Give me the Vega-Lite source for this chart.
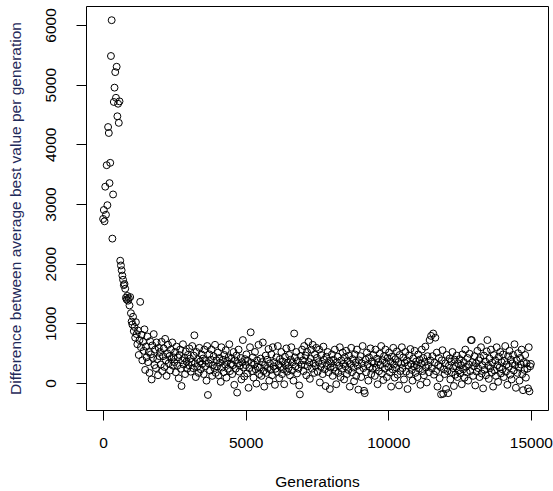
{
"$schema": "https://vega.github.io/schema/vega-lite/v6.json",
"width": 462, "height": 404,
"autosize": {"type": "none"},
"padding": {"left": 86, "top": 6, "right": 5, "bottom": 81},
"background": "white",
"config": {"view": {"stroke": "black", "strokeWidth": 1}, "font": "Liberation Sans"},
"data": {"values": [
{"g":0,"v":2750},{"g":25,"v":2900},{"g":50,"v":2710},{"g":75,"v":3290},{"g":100,"v":2820},{"g":125,"v":3650},{"g":150,"v":2980},{"g":175,"v":4290},{"g":200,"v":4190},{"g":225,"v":3350},{"g":250,"v":3690},{"g":275,"v":5480},{"g":300,"v":6080},{"g":325,"v":2420},{"g":350,"v":3160},{"g":375,"v":4710},{"g":400,"v":4950},{"g":425,"v":5210},{"g":450,"v":4780},{"g":475,"v":5300},
{"g":500,"v":4470},{"g":525,"v":4680},{"g":550,"v":4360},{"g":575,"v":4720},{"g":600,"v":2050},{"g":625,"v":1970},{"g":650,"v":1890},{"g":675,"v":1800},{"g":700,"v":1730},{"g":725,"v":1640},{"g":750,"v":1660},{"g":775,"v":1580},{"g":800,"v":1430},{"g":825,"v":1400},{"g":850,"v":1460},{"g":875,"v":1380},{"g":900,"v":1420},{"g":925,"v":1300},{"g":950,"v":1440},{"g":975,"v":1170},
{"g":1000,"v":1030},{"g":1025,"v":980},{"g":1050,"v":1110},{"g":1075,"v":870},{"g":1100,"v":940},{"g":1125,"v":760},{"g":1150,"v":1020},{"g":1175,"v":820},{"g":1200,"v":650},{"g":1225,"v":880},{"g":1250,"v":470},{"g":1275,"v":720},{"g":1300,"v":1360},{"g":1325,"v":600},{"g":1350,"v":810},{"g":1375,"v":380},{"g":1400,"v":690},{"g":1425,"v":540},{"g":1450,"v":900},{"g":1475,"v":220},
{"g":1500,"v":610},{"g":1525,"v":430},{"g":1550,"v":780},{"g":1575,"v":350},{"g":1600,"v":520},{"g":1625,"v":170},{"g":1650,"v":700},{"g":1675,"v":480},{"g":1700,"v":60},{"g":1725,"v":630},{"g":1750,"v":420},{"g":1775,"v":820},{"g":1800,"v":300},{"g":1825,"v":560},{"g":1850,"v":250},{"g":1875,"v":680},{"g":1900,"v":400},{"g":1925,"v":130},{"g":1950,"v":590},{"g":1975,"v":450},
{"g":2000,"v":520},{"g":2025,"v":310},{"g":2050,"v":690},{"g":2075,"v":200},{"g":2100,"v":450},{"g":2125,"v":580},{"g":2150,"v":270},{"g":2175,"v":740},{"g":2200,"v":380},{"g":2225,"v":120},{"g":2250,"v":500},{"g":2275,"v":640},{"g":2300,"v":330},{"g":2325,"v":450},{"g":2350,"v":210},{"g":2375,"v":560},{"g":2400,"v":400},{"g":2425,"v":680},{"g":2450,"v":290},{"g":2475,"v":430},
{"g":2500,"v":350},{"g":2525,"v":520},{"g":2550,"v":180},{"g":2575,"v":610},{"g":2600,"v":290},{"g":2625,"v":430},{"g":2650,"v":80},{"g":2675,"v":470},{"g":2700,"v":560},{"g":2725,"v":240},{"g":2750,"v":-50},{"g":2775,"v":380},{"g":2800,"v":650},{"g":2825,"v":310},{"g":2850,"v":420},{"g":2875,"v":150},{"g":2900,"v":530},{"g":2925,"v":360},{"g":2950,"v":240},{"g":2975,"v":470},
{"g":3000,"v":300},{"g":3025,"v":580},{"g":3050,"v":410},{"g":3075,"v":190},{"g":3100,"v":350},{"g":3125,"v":620},{"g":3150,"v":250},{"g":3175,"v":460},{"g":3200,"v":800},{"g":3225,"v":330},{"g":3250,"v":100},{"g":3275,"v":520},{"g":3300,"v":270},{"g":3325,"v":400},{"g":3350,"v":170},{"g":3375,"v":590},{"g":3400,"v":360},{"g":3425,"v":230},{"g":3450,"v":480},{"g":3475,"v":320},
{"g":3500,"v":410},{"g":3525,"v":150},{"g":3550,"v":560},{"g":3575,"v":280},{"g":3600,"v":370},{"g":3625,"v":40},{"g":3650,"v":620},{"g":3675,"v":-200},{"g":3700,"v":330},{"g":3725,"v":480},{"g":3750,"v":210},{"g":3775,"v":390},{"g":3800,"v":560},{"g":3825,"v":120},{"g":3850,"v":300},{"g":3875,"v":450},{"g":3900,"v":250},{"g":3925,"v":640},{"g":3950,"v":170},{"g":3975,"v":380},
{"g":4000,"v":280},{"g":4025,"v":510},{"g":4050,"v":130},{"g":4075,"v":420},{"g":4100,"v":340},{"g":4125,"v":20},{"g":4150,"v":600},{"g":4175,"v":260},{"g":4200,"v":390},{"g":4225,"v":180},{"g":4250,"v":470},{"g":4275,"v":310},{"g":4300,"v":550},{"g":4325,"v":90},{"g":4350,"v":370},{"g":4375,"v":240},{"g":4400,"v":430},{"g":4425,"v":650},{"g":4450,"v":200},{"g":4475,"v":320},
{"g":4500,"v":410},{"g":4525,"v":150},{"g":4550,"v":300},{"g":4575,"v":520},{"g":4600,"v":-30},{"g":4625,"v":380},{"g":4650,"v":240},{"g":4675,"v":460},{"g":4700,"v":-160},{"g":4725,"v":330},{"g":4750,"v":560},{"g":4775,"v":190},{"g":4800,"v":290},{"g":4825,"v":420},{"g":4850,"v":60},{"g":4875,"v":350},{"g":4900,"v":720},{"g":4925,"v":260},{"g":4950,"v":110},{"g":4975,"v":400},
{"g":5000,"v":300},{"g":5025,"v":480},{"g":5050,"v":160},{"g":5075,"v":370},{"g":5100,"v":-80},{"g":5125,"v":250},{"g":5150,"v":600},{"g":5175,"v":850},{"g":5200,"v":340},{"g":5225,"v":200},{"g":5250,"v":430},{"g":5275,"v":90},{"g":5300,"v":310},{"g":5325,"v":520},{"g":5350,"v":230},{"g":5375,"v":-10},{"g":5400,"v":380},{"g":5425,"v":270},{"g":5450,"v":640},{"g":5475,"v":150},
{"g":5500,"v":260},{"g":5525,"v":410},{"g":5550,"v":120},{"g":5575,"v":350},{"g":5600,"v":680},{"g":5625,"v":200},{"g":5650,"v":-60},{"g":5675,"v":300},{"g":5700,"v":460},{"g":5725,"v":170},{"g":5750,"v":390},{"g":5775,"v":250},{"g":5800,"v":570},{"g":5825,"v":40},{"g":5850,"v":330},{"g":5875,"v":220},{"g":5900,"v":480},{"g":5925,"v":130},{"g":5950,"v":600},{"g":5975,"v":280},
{"g":6000,"v":350},{"g":6025,"v":-30},{"g":6050,"v":240},{"g":6075,"v":430},{"g":6100,"v":190},{"g":6125,"v":620},{"g":6150,"v":310},{"g":6175,"v":80},{"g":6200,"v":400},{"g":6225,"v":270},{"g":6250,"v":520},{"g":6275,"v":150},{"g":6300,"v":360},{"g":6325,"v":230},{"g":6350,"v":-20},{"g":6375,"v":440},{"g":6400,"v":300},{"g":6425,"v":580},{"g":6450,"v":190},{"g":6475,"v":340},
{"g":6500,"v":250},{"g":6525,"v":470},{"g":6550,"v":130},{"g":6575,"v":390},{"g":6600,"v":600},{"g":6625,"v":210},{"g":6650,"v":350},{"g":6675,"v":40},{"g":6700,"v":830},{"g":6725,"v":430},{"g":6750,"v":280},{"g":6775,"v":520},{"g":6800,"v":160},{"g":6825,"v":370},{"g":6850,"v":240},{"g":6875,"v":-40},{"g":6900,"v":-190},{"g":6925,"v":450},{"g":6950,"v":310},{"g":6975,"v":560},
{"g":7000,"v":380},{"g":7025,"v":200},{"g":7050,"v":620},{"g":7075,"v":300},{"g":7100,"v":460},{"g":7125,"v":130},{"g":7150,"v":520},{"g":7175,"v":280},{"g":7200,"v":690},{"g":7225,"v":350},{"g":7250,"v":70},{"g":7275,"v":410},{"g":7300,"v":560},{"g":7325,"v":240},{"g":7350,"v":640},{"g":7375,"v":330},{"g":7400,"v":170},{"g":7425,"v":480},{"g":7450,"v":290},{"g":7475,"v":590},
{"g":7500,"v":420},{"g":7525,"v":190},{"g":7550,"v":350},{"g":7575,"v":560},{"g":7600,"v":10},{"g":7625,"v":270},{"g":7650,"v":470},{"g":7675,"v":320},{"g":7700,"v":150},{"g":7725,"v":610},{"g":7750,"v":390},{"g":7775,"v":230},{"g":7800,"v":-50},{"g":7825,"v":440},{"g":7850,"v":300},{"g":7875,"v":520},{"g":7900,"v":180},{"g":7925,"v":370},{"g":7950,"v":-100},{"g":7975,"v":260},
{"g":8000,"v":330},{"g":8025,"v":480},{"g":8050,"v":120},{"g":8075,"v":390},{"g":8100,"v":260},{"g":8125,"v":560},{"g":8150,"v":200},{"g":8175,"v":-20},{"g":8200,"v":350},{"g":8225,"v":440},{"g":8250,"v":170},{"g":8275,"v":290},{"g":8300,"v":600},{"g":8325,"v":100},{"g":8350,"v":380},{"g":8375,"v":240},{"g":8400,"v":510},{"g":8425,"v":320},{"g":8450,"v":60},{"g":8475,"v":430},
{"g":8500,"v":280},{"g":8525,"v":540},{"g":8550,"v":150},{"g":8575,"v":370},{"g":8600,"v":220},{"g":8625,"v":460},{"g":8650,"v":-60},{"g":8675,"v":320},{"g":8700,"v":590},{"g":8725,"v":180},{"g":8750,"v":400},{"g":8775,"v":260},{"g":8800,"v":30},{"g":8825,"v":480},{"g":8850,"v":340},{"g":8875,"v":120},{"g":8900,"v":560},{"g":8925,"v":290},{"g":8950,"v":-110},{"g":8975,"v":380},
{"g":9000,"v":210},{"g":9025,"v":450},{"g":9050,"v":100},{"g":9075,"v":330},{"g":9100,"v":620},{"g":9125,"v":250},{"g":9150,"v":-130},{"g":9175,"v":-170},{"g":9200,"v":390},{"g":9225,"v":180},{"g":9250,"v":510},{"g":9275,"v":310},{"g":9300,"v":40},{"g":9325,"v":430},{"g":9350,"v":270},{"g":9375,"v":580},{"g":9400,"v":150},{"g":9425,"v":360},{"g":9450,"v":240},{"g":9475,"v":470},
{"g":9500,"v":330},{"g":9525,"v":120},{"g":9550,"v":560},{"g":9575,"v":260},{"g":9600,"v":410},{"g":9625,"v":-20},{"g":9650,"v":350},{"g":9675,"v":200},{"g":9700,"v":490},{"g":9725,"v":300},{"g":9750,"v":620},{"g":9775,"v":160},{"g":9800,"v":380},{"g":9825,"v":50},{"g":9850,"v":450},{"g":9875,"v":240},{"g":9900,"v":560},{"g":9925,"v":330},{"g":9950,"v":100},{"g":9975,"v":420},
{"g":10000,"v":270},{"g":10025,"v":510},{"g":10050,"v":180},{"g":10075,"v":360},{"g":10100,"v":-60},{"g":10125,"v":440},{"g":10150,"v":230},{"g":10175,"v":590},{"g":10200,"v":310},{"g":10225,"v":90},{"g":10250,"v":400},{"g":10275,"v":260},{"g":10300,"v":530},{"g":10325,"v":140},{"g":10350,"v":350},{"g":10375,"v":-40},{"g":10400,"v":470},{"g":10425,"v":200},{"g":10450,"v":320},{"g":10475,"v":600},
{"g":10500,"v":250},{"g":10525,"v":430},{"g":10550,"v":60},{"g":10575,"v":340},{"g":10600,"v":520},{"g":10625,"v":190},{"g":10650,"v":380},{"g":10675,"v":-100},{"g":10700,"v":290},{"g":10725,"v":460},{"g":10750,"v":150},{"g":10775,"v":570},{"g":10800,"v":320},{"g":10825,"v":220},{"g":10850,"v":40},{"g":10875,"v":410},{"g":10900,"v":280},{"g":10925,"v":540},{"g":10950,"v":170},{"g":10975,"v":360},
{"g":11000,"v":300},{"g":11025,"v":100},{"g":11050,"v":480},{"g":11075,"v":240},{"g":11100,"v":390},{"g":11125,"v":-30},{"g":11150,"v":330},{"g":11175,"v":560},{"g":11200,"v":200},{"g":11225,"v":420},{"g":11250,"v":130},{"g":11275,"v":350},{"g":11300,"v":610},{"g":11325,"v":260},{"g":11350,"v":10},{"g":11375,"v":450},{"g":11400,"v":300},{"g":11425,"v":180},{"g":11450,"v":720},{"g":11475,"v":380},
{"g":11500,"v":790},{"g":11525,"v":250},{"g":11550,"v":450},{"g":11575,"v":830},{"g":11600,"v":140},{"g":11625,"v":340},{"g":11650,"v":760},{"g":11675,"v":200},{"g":11700,"v":510},{"g":11725,"v":-60},{"g":11750,"v":300},{"g":11775,"v":420},{"g":11800,"v":80},{"g":11825,"v":270},{"g":11850,"v":-190},{"g":11875,"v":380},{"g":11900,"v":550},{"g":11925,"v":-180},{"g":11950,"v":230},{"g":11975,"v":150},
{"g":12000,"v":330},{"g":12025,"v":-100},{"g":12050,"v":470},{"g":12075,"v":200},{"g":12100,"v":-170},{"g":12125,"v":290},{"g":12150,"v":410},{"g":12175,"v":60},{"g":12200,"v":360},{"g":12225,"v":180},{"g":12250,"v":520},{"g":12275,"v":250},{"g":12300,"v":-50},{"g":12325,"v":390},{"g":12350,"v":140},{"g":12375,"v":280},{"g":12400,"v":460},{"g":12425,"v":100},{"g":12450,"v":330},{"g":12475,"v":210},
{"g":12500,"v":400},{"g":12525,"v":160},{"g":12550,"v":300},{"g":12575,"v":-20},{"g":12600,"v":480},{"g":12625,"v":230},{"g":12650,"v":350},{"g":12675,"v":90},{"g":12700,"v":560},{"g":12725,"v":270},{"g":12750,"v":180},{"g":12775,"v":420},{"g":12800,"v":40},{"g":12825,"v":310},{"g":12850,"v":490},{"g":12875,"v":200},{"g":12900,"v":720},{"g":12925,"v":720},{"g":12950,"v":350},{"g":12975,"v":120},
{"g":13000,"v":280},{"g":13025,"v":450},{"g":13050,"v":-40},{"g":13075,"v":330},{"g":13100,"v":190},{"g":13125,"v":540},{"g":13150,"v":250},{"g":13175,"v":380},{"g":13200,"v":100},{"g":13225,"v":420},{"g":13250,"v":600},{"g":13275,"v":160},{"g":13300,"v":300},{"g":13325,"v":-90},{"g":13350,"v":460},{"g":13375,"v":220},{"g":13400,"v":360},{"g":13425,"v":130},{"g":13450,"v":530},{"g":13475,"v":720},
{"g":13500,"v":290},{"g":13525,"v":70},{"g":13550,"v":410},{"g":13575,"v":250},{"g":13600,"v":560},{"g":13625,"v":180},{"g":13650,"v":340},{"g":13675,"v":-60},{"g":13700,"v":470},{"g":13725,"v":210},{"g":13750,"v":380},{"g":13775,"v":120},{"g":13800,"v":600},{"g":13825,"v":300},{"g":13850,"v":20},{"g":13875,"v":440},{"g":13900,"v":260},{"g":13925,"v":520},{"g":13950,"v":160},{"g":13975,"v":350},
{"g":14000,"v":230},{"g":14025,"v":480},{"g":14050,"v":100},{"g":14075,"v":370},{"g":14100,"v":620},{"g":14125,"v":190},{"g":14150,"v":310},{"g":14175,"v":-30},{"g":14200,"v":450},{"g":14225,"v":270},{"g":14250,"v":540},{"g":14275,"v":140},{"g":14300,"v":390},{"g":14325,"v":60},{"g":14350,"v":330},{"g":14375,"v":470},{"g":14400,"v":210},{"g":14425,"v":650},{"g":14450,"v":300},{"g":14475,"v":-80},
{"g":14500,"v":380},{"g":14525,"v":170},{"g":14550,"v":500},{"g":14575,"v":260},{"g":14600,"v":40},{"g":14625,"v":420},{"g":14650,"v":310},{"g":14675,"v":560},{"g":14700,"v":150},{"g":14725,"v":-120},{"g":14750,"v":350},{"g":14775,"v":220},{"g":14800,"v":470},{"g":14825,"v":90},{"g":14850,"v":330},{"g":14875,"v":240},{"g":14900,"v":-90},{"g":14925,"v":600},{"g":14950,"v":-140},{"g":14975,"v":280},
{"g":15000,"v":320}
]},
"mark": {"type": "point", "shape": "circle", "filled": false, "stroke": "black", "strokeWidth": 1, "size": 48, "opacity": 1},
"encoding": {
"x": {"field": "g", "type": "quantitative", "title": "Generations",
"scale": {"domain": [-600, 15600], "nice": false, "zero": false},
"axis": {"values": [0, 5000, 10000, 15000], "format": "d", "domain": false, "grid": false, "tickColor": "black", "tickSize": 10, "labelFontSize": 15.5, "labelColor": "black", "labelPadding": 15, "labelFont": "Liberation Sans", "titleFont": "Liberation Sans", "titleFontSize": 15.5, "titleFontWeight": "normal", "titleColor": "black", "titlePadding": 24, "labelFlush": false}},
"y": {"field": "v", "type": "quantitative", "title": "Difference between average best value per generation",
"scale": {"domain": [-452, 6318], "nice": false, "zero": false},
"axis": {"values": [0, 1000, 2000, 3000, 4000, 5000, 6000], "format": "d", "domain": false, "grid": false, "tickColor": "black", "tickSize": 10, "labelFontSize": 15.5, "labelColor": "black", "labelAngle": -90, "labelAlign": "center", "labelBaseline": "bottom", "labelPadding": 18, "labelFont": "Liberation Sans", "titleFont": "Liberation Sans", "titleFontSize": 15.5, "titleFontWeight": "normal", "titleColor": "#1f2a5a", "titlePadding": 20, "labelFlush": false}}
}
}
